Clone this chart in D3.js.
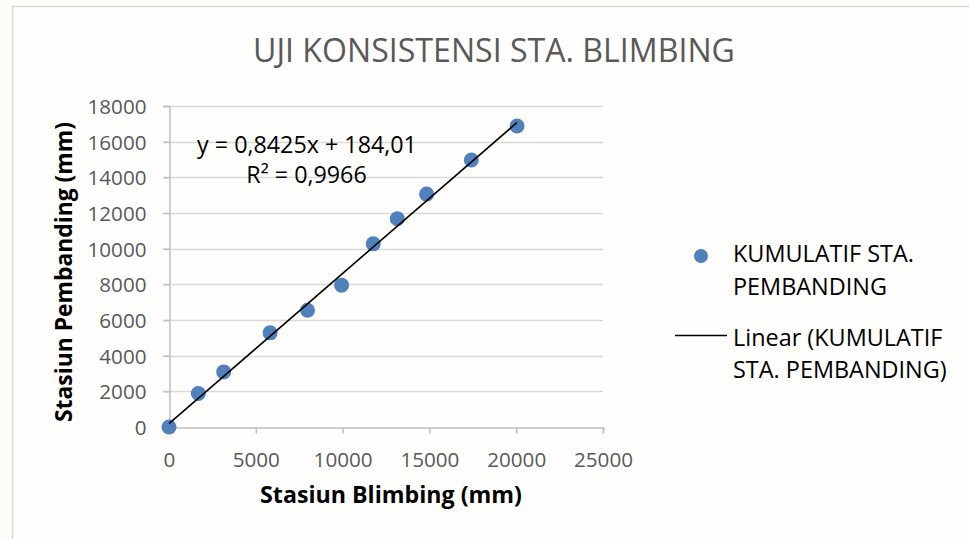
<!DOCTYPE html>
<html>
<head>
<meta charset="utf-8">
<script src="https://cdn.jsdelivr.net/npm/d3@7/dist/d3.min.js"></script>
<style>
  html, body { margin: 0; padding: 0; background: #ffffff; }
  svg { display: block; }
  text { font-family: "Open Sans", "Noto Sans", sans-serif; }
</style>
</head>
<body>
<svg id="chart" width="969" height="539"></svg>
<script>
// Cumulative rainfall: Sta. Blimbing (x) vs comparison stations (y), mm
const blimbing = [0, 1690, 3150, 5825, 7980, 9940, 11765, 13150, 14840, 17415, 20050];
const pembanding = [0, 1875, 3090, 5280, 6550, 7955, 10270, 11680, 13060, 14970, 16880];
const xTicks = [0, 5000, 10000, 15000, 20000, 25000];
const yTicks = [0, 2000, 4000, 6000, 8000, 10000, 12000, 14000, 16000, 18000];
const slope = 0.8425;
const intercept = 184.01;
const rSquared = "0,9966";

const svg = d3.select("#chart");
const W = 969, H = 539;

// size a text element so its rendered width equals `width`, returns the font size
function fit(sel, width) {
  sel.attr("font-size", 20);
  const w = sel.node().getComputedTextLength();
  const fs = 20 * width / w;
  sel.attr("font-size", fs);
  return fs;
}

// chart area background and border
svg.append("rect").attr("width", W).attr("height", H).attr("fill", "#fdfcf9");
svg.append("rect").attr("x", 12.5).attr("y", 6.5).attr("width", W + 10).attr("height", H + 10)
  .attr("fill", "#fffefc").attr("stroke", "#d9d9d9").attr("stroke-width", 1.5);

const plot = { left: 169, right: 603, top: 106, bottom: 427 };
const x = d3.scaleLinear().domain([0, 25000]).range([plot.left, plot.right]);
const y = d3.scaleLinear().domain([0, 18000]).range([plot.bottom, plot.top]);

// horizontal gridlines
svg.append("g").selectAll("line").data(yTicks.filter(d => d > 0)).join("line")
  .attr("x1", plot.left - 6).attr("x2", plot.right)
  .attr("y1", d => Math.round(y(d)) + 0.5).attr("y2", d => Math.round(y(d)) + 0.5)
  .attr("stroke", "#d9d9d9").attr("stroke-width", 1.5);

// tick label size taken from the widest label
const probe = svg.append("text").text("10000");
const tickFs = fit(probe, 59);
probe.remove();

// y axis
const yAxis = svg.append("g").attr("transform", `translate(${plot.left + 0.5},0)`)
  .call(d3.axisLeft(y).tickValues(yTicks).tickSize(6).tickFormat(d3.format("d")));
yAxis.select(".domain").attr("stroke", "#bfbfbf").attr("stroke-width", 1.5);
yAxis.selectAll(".tick line").attr("stroke", "#bfbfbf").attr("stroke-width", 1.5);
yAxis.selectAll(".tick text").attr("fill", "#595959").attr("font-size", tickFs)
  .attr("font-family", "'Open Sans', sans-serif").attr("x", -23).attr("dy", "0.36em");

// x axis
const xAxis = svg.append("g").attr("transform", `translate(0,${plot.bottom + 0.5})`)
  .call(d3.axisBottom(x).tickValues(xTicks).tickSize(6).tickFormat(d3.format("d")));
xAxis.select(".domain").attr("stroke", "#bfbfbf").attr("stroke-width", 1.5);
xAxis.selectAll(".tick line").attr("stroke", "#bfbfbf").attr("stroke-width", 1.5);
xAxis.selectAll(".tick text").attr("fill", "#595959").attr("font-size", tickFs)
  .attr("font-family", "'Open Sans', sans-serif").attr("y", 39).attr("dy", 0);

// markers
svg.append("g").selectAll("circle").data(blimbing.map((v, i) => [v, pembanding[i]])).join("circle")
  .attr("cx", d => x(d[0])).attr("cy", d => y(d[1])).attr("r", 7.5)
  .attr("fill", "#4f81bd");

// linear trendline
const xMax = d3.max(blimbing);
svg.append("line")
  .attr("x1", x(0)).attr("y1", y(intercept))
  .attr("x2", x(xMax)).attr("y2", y(slope * xMax + intercept))
  .attr("stroke", "#000000").attr("stroke-width", 1.6);

// trendline equation
const fmt = v => String(v).replace(".", ",");
const eq = svg.append("text").attr("x", 307).attr("y", 153).attr("text-anchor", "middle")
  .attr("fill", "#000").text(`y = ${fmt(slope)}x + ${fmt(intercept)}`);
const eqFs = fit(eq, 220);
svg.append("text").attr("x", 306.5).attr("y", 183).attr("text-anchor", "middle")
  .attr("font-size", eqFs).attr("fill", "#000")
  .text(`R² = ${rSquared}`);

// title
const title = svg.append("text").attr("x", 494).attr("y", 62).attr("text-anchor", "middle")
  .attr("fill", "#595959").text("UJI KONSISTENSI STA. BLIMBING");
fit(title, 482);

// axis titles
const xt = svg.append("text").attr("x", 391).attr("y", 503).attr("text-anchor", "middle")
  .attr("font-weight", "bold").attr("fill", "#000")
  .text("Stasiun Blimbing (mm)");
fit(xt, 262);
const yt = svg.append("text").attr("transform", "translate(72,272) rotate(-90)").attr("text-anchor", "middle")
  .attr("font-weight", "bold").attr("fill", "#000")
  .text("Stasiun Pembanding (mm)");
fit(yt, 300);

// legend
const lg = svg.append("g");
lg.append("circle").attr("cx", 701).attr("cy", 256).attr("r", 7).attr("fill", "#4f81bd");
const l1 = lg.append("text").attr("x", 733).attr("y", 262).attr("fill", "#000").text("KUMULATIF STA.");
const lgFs = fit(l1, 181);
lg.append("text").attr("x", 733).attr("y", 295).attr("font-size", lgFs).attr("fill", "#000").text("PEMBANDING");
lg.append("line").attr("x1", 675).attr("x2", 727).attr("y1", 335.5).attr("y2", 335.5)
  .attr("stroke", "#000").attr("stroke-width", 1.6);
lg.append("text").attr("x", 733).attr("y", 346).attr("font-size", lgFs).attr("fill", "#000").text("Linear (KUMULATIF");
lg.append("text").attr("x", 733).attr("y", 378).attr("font-size", lgFs).attr("fill", "#000").text("STA. PEMBANDING)");
</script>
</body>
</html>
